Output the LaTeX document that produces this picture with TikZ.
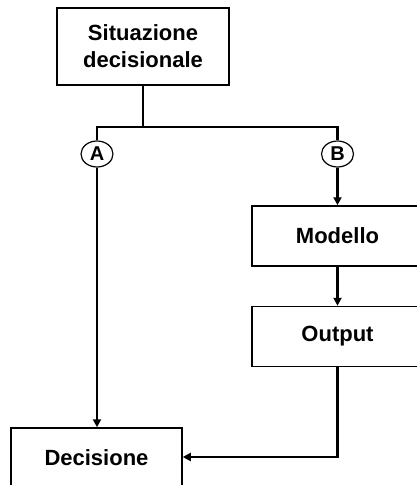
\documentclass[tikz,border=0pt]{standalone}
\usepackage{fontspec}
\setmainfont{Liberation Sans}
\usetikzlibrary{arrows.meta,shapes.geometric}
\begin{document}
\begin{tikzpicture}[x=1pt,y=-1pt,
  box/.style={draw, line width=1.5pt, inner sep=0pt, minimum width=171pt, minimum height=60pt, align=center, font=\fontsize{22}{27}\selectfont\bfseries},
  lab/.style={draw, ellipse, line width=1.2pt, inner sep=0pt, minimum width=32pt, minimum height=26pt, font=\fontsize{20}{20}\selectfont\bfseries},
  conn/.style={line width=2.5pt},
  arr/.style={line width=2.5pt, -{Triangle[length=8pt,width=8pt]}}]
\useasboundingbox (0,0) rectangle (417,485);
\clip (0,0) rectangle (417,485);
\node[box, minimum width=172pt, minimum height=77pt] (sit) at (143,46.5) {Situazione\\decisionale};
\node[lab] (A) at (97,154) {A};
\node[lab] (B) at (337.5,154) {B};
\node[box] (mod) at (337.5,236) {Modello};
\node[box] (out) at (337.5,336.5) {Output};
\node[box] (dec) at (96.5,458) {Decisione};
\coordinate (j) at (143,127);
\draw[conn] (sit.south) -- (j);
\draw[conn] (j) -| (A.north);
\draw[conn] (j) -| (B.north);
\draw[arr] (A.south) -- (A.south |- dec.north);
\draw[arr] (B.south) -- (mod.north);
\draw[arr] (mod.south) -- (out.north);
\draw[arr] (out.south) |- (dec.east |- 0,457);
\end{tikzpicture}
\end{document}
